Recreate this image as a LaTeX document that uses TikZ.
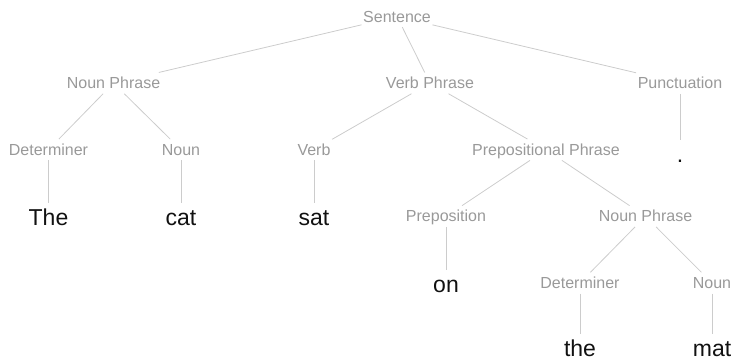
\documentclass[tikz,border=0pt]{standalone}
\usepackage{fontspec}
\setmainfont{Liberation Sans}
\definecolor{labelgray}{HTML}{999999}
\definecolor{edgegray}{HTML}{CCCCCC}
\definecolor{wordblack}{HTML}{111111}

\begin{document}
\begin{tikzpicture}[x=1pt, y=-1pt,
			phrase/.style = {text=labelgray, font=\fontsize{16}{19}\selectfont,
				text height=14.5pt, text depth=3.4pt, inner sep=1.5pt},
			word/.style = {text=wordblack, font=\fontsize{23}{27}\selectfont,
				text height=20.8pt, text depth=4.9pt, inner sep=1.5pt},
			branch/.style = {draw=edgegray, line width=0.8pt}]
			
			\useasboundingbox (0,0) rectangle (735,362);
			
			% categories
			\node[phrase] (sent)  at (397,16.5)  {Sentence};
			\node[phrase] (np1)   at (113.5,83.1) {Noun Phrase};
			\node[phrase] (vp)    at (430,83.1)  {Verb Phrase};
			\node[phrase] (punc)  at (680,83.1)  {Punctuation};
			\node[phrase] (det1)  at (48.5,149.7) {Determiner};
			\node[phrase] (noun1) at (181,149.7) {Noun};
			\node[phrase] (verb)  at (314,149.7) {Verb};
			\node[phrase] (pp)    at (546,149.7) {Prepositional Phrase};
			\node[phrase] (prep)  at (446,216.3) {Preposition};
			\node[phrase] (np2)   at (645.5,216.3) {Noun Phrase};
			\node[phrase] (det2)  at (580,282.9) {Determiner};
			\node[phrase] (noun2) at (712,282.9) {Noun};
			
			% words
			\node[word] (wdot) at (680,154.5) {.};
			\node[word] (wThe) at (48.5,217.8) {The};
			\node[word] (wcat) at (181,217.8) {cat};
			\node[word] (wsat) at (314,217.8) {sat};
			\node[word] (won)  at (446,284.6) {on};
			\node[word] (wthe) at (580,348.6) {the};
			\node[word] (wmat) at (712,348.6) {mat};
			
			\foreach \a/\b in {sent/np1, sent/vp, sent/punc,
				np1/det1, np1/noun1, vp/verb, vp/pp, punc/wdot,
				det1/wThe, noun1/wcat, verb/wsat,
				pp/prep, pp/np2, prep/won,
				np2/det2, np2/noun2, det2/wthe, noun2/wmat}
				\draw[branch] (\a) -- (\b);
			\end{tikzpicture}
\end{document}
